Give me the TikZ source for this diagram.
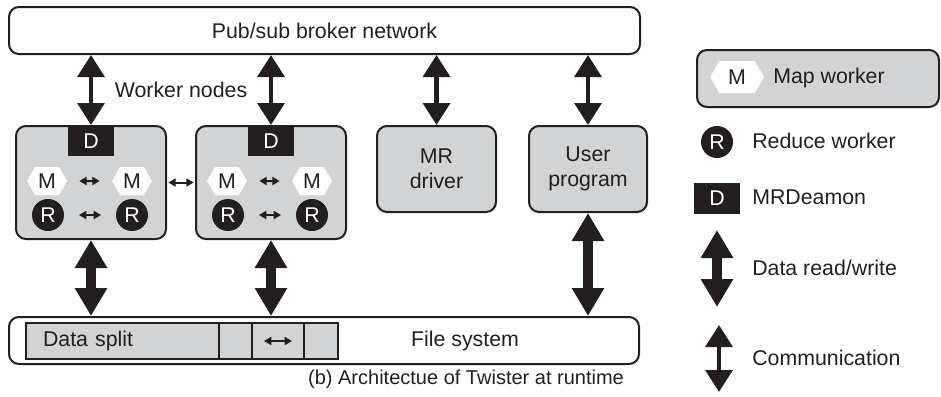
\documentclass[tikz,border=0pt]{standalone}
\usepackage{fontspec}
\setmainfont{Liberation Sans}
\definecolor{BoxGray}{HTML}{D1D3D4}
\definecolor{InkDark}{HTML}{231F20}
\usetikzlibrary{positioning, arrows.meta, shapes.symbols}

\begin{document}
\begin{tikzpicture}[
  x=0.75pt, y=-0.75pt,
  every node/.style={font=\fontsize{16}{19}\selectfont, text=InkDark},
  box/.style={draw=InkDark, line width=1.5pt, rounded corners=7.5pt, inner sep=0pt},
  wbox/.style={box, fill=BoxGray, minimum width=112.5pt, minimum height=84.75pt},
  pbox/.style={box, fill=BoxGray, minimum height=64.5pt, align=center},
  dmn/.style={fill=InkDark, text=white, minimum width=34.5pt, minimum height=23.25pt, inner sep=0pt},
  mw/.style={signal, signal to=east and west, signal pointer angle=120, fill=white, minimum width=30pt, minimum height=21pt, inner sep=0pt},
  rw/.style={circle, fill=InkDark, text=white, minimum size=24pt, inner sep=0pt},
  cell/.style={draw=InkDark, line width=1.5pt, fill=BoxGray, minimum height=27pt, inner sep=0pt, outer sep=0pt},
  lgd/.style={anchor=west, inner sep=0pt},
  rw arrow/.style={draw=InkDark, line width=7pt, {Triangle[width=23pt, length=21pt]}-{Triangle[width=23pt, length=21pt]}},
  com arrow/.style={draw=InkDark, line width=3.4pt, {Triangle[width=20pt, length=16.5pt]}-{Triangle[width=20pt, length=16.5pt]}},
  sm arrow/.style={draw=InkDark, line width=1.5pt, {Triangle[width=6pt, length=5.5pt]}-{Triangle[width=6pt, length=5.5pt]}},
]
  \useasboundingbox (0,0) rectangle (941,396);

  % Broker and file system
  \node[box, minimum width=473.25pt, minimum height=35.25pt] (broker) at (324.5, 30.5) {Pub/sub broker network};
  \node[box, minimum width=472.5pt, minimum height=35.25pt] (fs) at (324, 340.5) {};
  \node (fslbl) at (465, 341) {File system};

  % Data split strip
  \node[cell, anchor=west, minimum width=144.75pt, text width=119.25pt, inner xsep=12.75pt, align=left] (ds1) at (26, 341) {Data split};
  \node[cell, minimum width=24.75pt, right=0pt of ds1] (ds2) {};
  \node[cell, minimum width=39pt, right=0pt of ds2] (ds3) {};
  \node[cell, minimum width=25.5pt, right=0pt of ds3] (ds4) {};

  % Worker nodes
  \node (wlbl) at (181, 90) {Worker nodes};
  \node[wbox] (w1) at (91, 182.5) {};
  \node[wbox] (w2) at (271, 182.5) {};
  \node[dmn, anchor=north] (d1) at (w1.north) {D};
  \node[dmn, anchor=north] (d2) at (w2.north) {D};
  \node[mw] (m11) at (47, 181) {M};
  \node[mw] (m12) at (132, 181) {M};
  \node[rw] (r11) at (48, 215) {R};
  \node[rw] (r12) at (132, 215) {R};
  \node[mw] (m21) at (227, 181) {M};
  \node[mw] (m22) at (312, 181) {M};
  \node[rw] (r21) at (228, 215) {R};
  \node[rw] (r22) at (312, 215) {R};

  % Driver and user program
  \node[pbox, minimum width=89.25pt] (drv) at (436.5, 169) {MR\\driver};
  \node[pbox, minimum width=88.5pt] (usr) at (588, 169) {User\\program};

  % Caption
  \node[font=\fontsize{15}{18}\selectfont] (cap) at (466, 379) {(b) Architectue of Twister at runtime};

  % Connectors
  \draw[com arrow] (d1.north |- broker.south) -- (d1.north);
  \draw[com arrow] (d2.north |- broker.south) -- (d2.north);
  \draw[com arrow] (drv.north |- broker.south) -- (drv.north);
  \draw[com arrow] (usr.north |- broker.south) -- (usr.north);
  \draw[rw arrow] (w1.south) -- (w1.south |- fs.north);
  \draw[rw arrow] (w2.south) -- (w2.south |- fs.north);
  \draw[rw arrow] (usr.south) -- (usr.south |- fs.north);
  \draw[sm arrow, shorten <=9pt, shorten >=9pt] (m11) -- (m12);
  \draw[sm arrow, shorten <=11pt, shorten >=11pt] (r11) -- (r12);
  \draw[sm arrow, shorten <=9pt, shorten >=9pt] (m21) -- (m22);
  \draw[sm arrow, shorten <=11pt, shorten >=11pt] (r21) -- (r22);
  \draw[sm arrow, shorten <=1pt, shorten >=1pt] (w1) -- (w2);
  \draw[sm arrow, shorten <=9pt, shorten >=9pt] (ds3.west) -- (ds3.east);

  % Legend
  \node[box, fill=BoxGray, minimum width=181.5pt, minimum height=42.75pt] (lbox) at (818, 78.5) {};
  \node[mw, minimum width=40.5pt, minimum height=24pt] (lm) at (737, 77) {M};
  \node[lgd] (lmt) at (773, 78) {Map worker};
  \node[rw] (lr) at (717, 142) {R};
  \node[lgd] (lrt) at (752, 141) {Reduce worker};
  \node[dmn] (ld) at (717, 198) {D};
  \node[lgd] (ldt) at (752, 197) {MRDeamon};
  \coordinate (ldata1) at (717, 230);
  \coordinate (ldata2) at (717, 307);
  \draw[rw arrow] (ldata1) -- (ldata2);
  \node[lgd] (ldatat) at (752, 268) {Data read/write};
  \coordinate (lcom1) at (719, 325);
  \coordinate (lcom2) at (719, 392);
  \draw[com arrow] (lcom1) -- (lcom2);
  \node[lgd] (lcomt) at (752, 358) {Communication};
\end{tikzpicture}
\end{document}
